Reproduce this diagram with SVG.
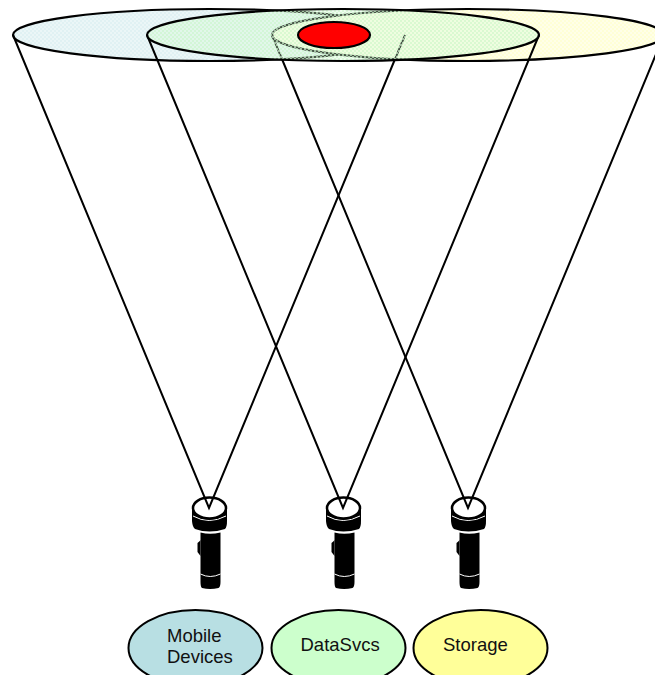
<svg xmlns="http://www.w3.org/2000/svg" xmlns:xlink="http://www.w3.org/1999/xlink" width="655" height="675" viewBox="0 0 655 675">
<style>
.beam{fill:none;stroke:#000;stroke-width:2}
.spot{stroke:#000;stroke-width:2.200}
.tag{stroke:#000;stroke-width:2}
text{font-family:"Liberation Sans",Arial,sans-serif;font-size:18.500px;fill:#111}
</style>
<defs>
<pattern id="pBlue" width="4" height="4" patternUnits="userSpaceOnUse"><rect width="4" height="4" fill="#EBF6F7"/><rect width="2" height="2" fill="#E0F1F3"/><rect x="2" y="2" width="2" height="2" fill="#E0F1F3"/></pattern>
<pattern id="pYellow" width="4" height="4" patternUnits="userSpaceOnUse"><rect width="4" height="4" fill="#FFFFE8"/><rect width="2" height="2" fill="#FFFFD6"/><rect x="2" y="2" width="2" height="2" fill="#FFFFD6"/></pattern>
<pattern id="pGreen" width="4" height="4" patternUnits="userSpaceOnUse"><rect width="4" height="4" fill="#D0F8D0" fill-opacity="0.350"/><rect width="2" height="2" fill="#D0F8D0" fill-opacity="0.650"/><rect x="2" y="2" width="2" height="2" fill="#D0F8D0" fill-opacity="0.650"/></pattern>
<symbol id="torch" overflow="visible">
<path d="M-17 0V13Q-16.500 19 -14 21Q0 26 16 21Q18 19 18 13V0Z" fill="#000"/>
<path d="M-8.500 24.500Q1 27 11.500 24.500V74Q11.500 79 9.500 80Q1 82 -7 80Q-8.500 79 -8.500 74Z" fill="#000"/>
<path d="M-11.500 35Q-9 33 -8.500 32V48Q-10 46 -11.500 44Z" fill="#000"/>
<path d="M-16 8Q0 17 17 8" fill="none" stroke="#fff" stroke-width="1"/>
<path d="M-8.500 66Q1 71 11.500 66" fill="none" stroke="#fff" stroke-width="1"/>
<ellipse cx="0.500" cy="0" rx="16.500" ry="10.500" fill="#fff" stroke="#000" stroke-width="2.500"/>
</symbol>
</defs>
<g id="spot-mobile"><ellipse class="spot" cx="209" cy="35" rx="196" ry="26" fill="url(#pBlue)"/></g>
<g id="spot-storage"><ellipse class="spot" cx="468" cy="35" rx="196" ry="26" fill="url(#pYellow)"/></g>
<g id="torch-mobile"><use xlink:href="#torch" href="#torch" x="209" y="508"/></g>
<g id="torch-datasvcs"><use xlink:href="#torch" href="#torch" x="343" y="508"/></g>
<g id="torch-storage"><use xlink:href="#torch" href="#torch" x="468" y="508"/></g>
<g id="connectors">
<path class="beam" d="M13 35L209 508L405 35"/>
<path class="beam" d="M147 35L343 508L539 35"/>
<path class="beam" d="M272 35L468 508L664 35"/>
</g>
<g id="spot-datasvcs"><ellipse cx="343" cy="35" rx="196" ry="26" fill="url(#pGreen)"/><ellipse cx="343" cy="35" rx="196" ry="26" fill="none" stroke="#000" stroke-width="2.200"/></g>
<g id="spot-core"><ellipse class="spot" cx="334" cy="35" rx="36" ry="13" fill="#FF0000"/></g>
<g id="tag-mobile"><ellipse class="tag" cx="195.500" cy="648" rx="67" ry="38" fill="#B8DFE3"/><text x="167" y="642">Mobile</text><text x="167" y="663">Devices</text></g>
<g id="tag-datasvcs"><ellipse class="tag" cx="338.500" cy="648" rx="67" ry="38" fill="#CCFFCC"/><text x="300.500" y="651">DataSvcs</text></g>
<g id="tag-storage"><ellipse class="tag" cx="480.500" cy="648" rx="67" ry="38" fill="#FFFF99"/><text x="443" y="651">Storage</text></g>
</svg>
